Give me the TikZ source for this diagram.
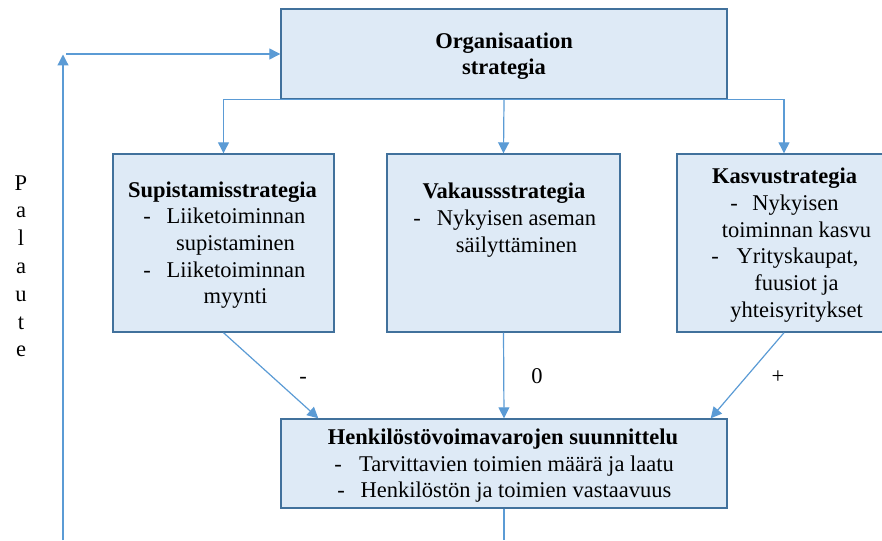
\documentclass[tikz,border=0pt]{standalone}
\usepackage{fontspec}
\setmainfont{LiberationSerif-Regular.ttf}[BoldFont=LiberationSerif-Bold.ttf]
\usetikzlibrary{arrows.meta,calc}

\definecolor{boxfill}{RGB}{222,234,246}
\definecolor{boxedge}{RGB}{65,113,156}
\definecolor{linkblue}{RGB}{91,155,213}

\begin{document}
\begin{tikzpicture}[x=1pt,y=-1pt,
  box/.style={draw=boxedge, fill=boxfill, line width=1.4pt, inner sep=0pt},
  link/.style={draw=linkblue, line width=1.2pt,
    -{Triangle[length=11pt,width=11pt]}},
  plain/.style={draw=linkblue, line width=1.2pt},
  ln/.style={anchor=base, inner sep=0pt, font=\fontsize{22.5}{26.5}\selectfont},
  hd/.style={ln, font=\fontsize{22.5}{26.5}\selectfont\bfseries}]

\useasboundingbox (0,0) rectangle (882,540);

% boxes
\node[box, minimum width=446pt, minimum height=90pt]  (org) at (504,54)    {};
\node[box, minimum width=221pt, minimum height=178pt] (sup) at (223.5,243) {};
\node[box, minimum width=233pt, minimum height=178pt] (vak) at (503.5,243) {};
\node[box, minimum width=214pt, minimum height=178pt] (kas) at (784,243)   {};
\node[box, minimum width=446pt, minimum height=89pt]  (hen) at (504,463.5) {};

% top box text
\node[hd] (org1) at (504,49) {Organisaation};
\node[hd] (org2) at (504,75) {strategia};

% contraction strategy
\node[hd] (sup0) at (222.5,197) {Supistamisstrategia};
\node[ln] (supd1) at (147,223) {-};
\node[ln] (sup1) at (236,223) {Liiketoiminnan};
\node[ln] (sup2) at (235.5,250) {supistaminen};
\node[ln] (supd2) at (147,277) {-};
\node[ln] (sup3) at (236,277) {Liiketoiminnan};
\node[ln] (sup4) at (235.5,303) {myynti};

% stability strategy
\node[hd] (vak0) at (504,198) {Vakaussstrategia};
\node[ln] (vakd1) at (417,225) {-};
\node[ln] (vak1) at (516.5,225) {Nykyisen aseman};
\node[ln] (vak2) at (516.5,252) {säilyttäminen};

% growth strategy
\node[hd] (kas0) at (784.5,183) {Kasvustrategia};
\node[ln] (kasd1) at (734,210) {-};
\node[ln] (kas1) at (795.5,210) {Nykyisen};
\node[ln] (kas2) at (796.5,237) {toiminnan kasvu};
\node[ln] (kasd2) at (715,263) {-};
\node[ln] (kas3) at (797.5,263) {Yrityskaupat,};
\node[ln] (kas4) at (796.5,290) {fuusiot ja};
\node[ln] (kas5) at (796.5,317) {yhteisyritykset};

% workforce planning
\node[hd] (hen0) at (503,444) {Henkilöstövoimavarojen suunnittelu};
\node[ln] (hend1) at (338,471) {-};
\node[ln] (hen1) at (516.5,471) {Tarvittavien toimien määrä ja laatu};
\node[ln] (hend2) at (341,497) {-};
\node[ln] (hen2) at (516,497) {Henkilöstön ja toimien vastaavuus};

% feedback label
\foreach \ch [count=\i from 0] in {P,a,l,a,u,t,e}
  \node[ln] (pal\i) at (21,190+27.8*\i) {\ch};

% branch from the organisation strategy
\draw[link] (org.south) -| (sup.north);
\draw[link] (org.south) -- (vak.north);
\draw[link] (org.south) -| (kas.north);

% into workforce planning
\coordinate (henL) at ($(hen.north west)+(38,0)$);
\coordinate (henR) at ($(hen.north east)+(-17,0)$);
\draw[link] (sup.south) -- (henL);
\draw[link] (vak.south) -- (hen.north);
\draw[link] (kas.south) -- (henR);

\node[ln] (lminus) at (303,383) {-};
\node[ln] (lzero)  at (537,383) {0};
\node[ln] (lplus)  at (778,383) {+};

% output and feedback loop
\coordinate (henOut) at (504,540);
\draw[plain] (hen.south) -- (henOut);
\coordinate (fbBottom) at (63,540);
\coordinate (fbTop) at (63,54.5);
\coordinate (fbStart) at (66,54);
\draw[link] (fbBottom) -- (fbTop);
\draw[link] (fbStart) -- (org.west);

\end{tikzpicture}
\end{document}
